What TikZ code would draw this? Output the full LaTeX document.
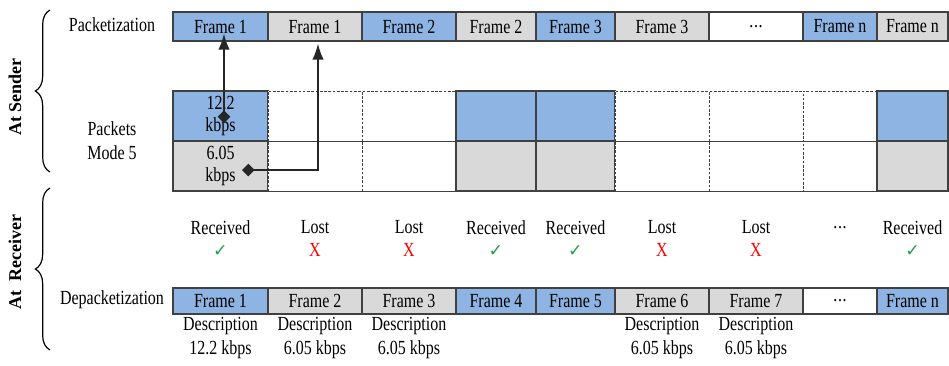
\documentclass[tikz,border=0pt]{standalone}
\usepackage{fontspec}
\setmainfont[FakeStretch=0.8]{Liberation Serif}
\newfontfamily\sidefont{Liberation Serif}
\newfontfamily\symfont{DejaVu Sans}
\usetikzlibrary{positioning, calc, arrows.meta, decorations.pathreplacing}
\definecolor{cellblue}{HTML}{8EB4E3}
\definecolor{cellgray}{HTML}{D9D9D9}
\definecolor{cellline}{HTML}{404040}
\definecolor{okgreen}{HTML}{22A04A}
\definecolor{lostred}{HTML}{FF0000}
\newcommand{\cellfont}{\fontsize{15}{17}\selectfont}
\newcommand{\descfont}{\fontsize{15}{18.5}\selectfont}
\newcommand{\okmark}{{\symfont\fontsize{13}{13}\selectfont\color{okgreen}✓}}
\newcommand{\lostmark}{{\color{lostred}X}}
\newcommand{\etcdots}{.\kern0.5pt.\kern0.5pt.}
\tikzset{
  cell/.style={draw=cellline, line width=0.8pt, inner sep=0pt, align=center, font=\cellfont},
  bluecell/.style={cell, fill=cellblue},
  graycell/.style={cell, fill=cellgray},
  whitecell/.style={cell, fill=white},
  emptycell/.style={cell, fill=white, line width=0.6pt, dash pattern=on 2pt off 1.2pt},
  txt/.style={align=center, font=\cellfont, inner sep=0pt},
  desc/.style={align=center, font=\descfont, inner sep=0pt},
  side/.style={rotate=90, font=\sidefont\bfseries\fontsize{13.5}{15}\selectfont},
  brc/.style={decorate, decoration={brace, amplitude=11pt}, line width=0.9pt},
  conn/.style={line width=1.3pt, draw=black!85, {Diamond[length=9.5pt, width=9.5pt]}-{Latex[length=12pt, width=8.5pt]}}
}

\begin{document}
\begin{tikzpicture}[x=0.75pt, y=-0.75pt]
  \useasboundingbox (0,0) rectangle (949,365);
  % Sides
  \node[side] (sender) at (15,97) {At Sender};
  \node[side] (receiver) at (15,262) {At\ \ Receiver};
  \draw[brc] (50,172) -- (50,10);
  \draw[brc] (50,350) -- (50,188);

  % Row labels
  \node[txt] (pkt) at (112,25) {Packetization};
  \node[desc] (mode) at (112,140.5) {Packets\\Mode 5};
  \node[txt] (depkt) at (112,300) {Depacketization};

  % Packetization row
  \foreach \x/\w/\lab/\fil [count=\i] in {220.5/95/Frame 1/bluecell, 315/94/Frame 1/graycell,
      409/94/Frame 2/bluecell, 496/80/Frame 2/graycell, 575.5/79/Frame 3/bluecell,
      662/94/Frame 3/graycell, 756/94/\etcdots/whitecell, 840/74/Frame n/bluecell, 912.5/71/Frame n/graycell}
    \node[\fil, minimum width={\w*0.75pt}, minimum height=21.75pt] (fr\i) at (\x,26.5) {\lab};

  % Packets
  \foreach \x/\w/\fa/\fb [count=\i] in {220.5/95/bluecell/graycell, 315/94/emptycell/emptycell,
      409/94/emptycell/emptycell, 496/80/bluecell/graycell, 575.5/79/bluecell/graycell,
      662/94/emptycell/emptycell, 756/94/emptycell/emptycell, 840/74/emptycell/emptycell,
      912.5/71/bluecell/graycell}{
    \ifnum\i=1
      \node[\fa, minimum width={\w*0.75pt}, minimum height=37.5pt] (pa\i) at (\x,116) {12.2\\kbps};
      \node[\fb, minimum width={\w*0.75pt}, minimum height=37.5pt] (pb\i) at (\x,166) {6.05\\kbps};
    \else
      \node[\fa, minimum width={\w*0.75pt}, minimum height=37.5pt] (pa\i) at (\x,116) {};
      \node[\fb, minimum width={\w*0.75pt}, minimum height=37.5pt] (pb\i) at (\x,166) {};
    \fi
  }
  \draw[cellline, line width=0.8pt] (pa1.south west) -- (pa9.south east);
  \draw[cellline, line width=0.8pt] (pb1.south west) -- (pb9.south east);

  % Arrows
  \coordinate (src1) at (224,123);
  \coordinate (src2) at (242,170);
  \coordinate (bend2) at (318,170);
  \draw[conn] (src1) -- ([yshift=6pt]src1 |- fr1.south);
  \draw[conn] (src2) -- (bend2) -- ([yshift=-1.5pt]bend2 |- fr2.south);

  % Receiver status
  \foreach \x/\st [count=\i] in {220.5/{Received\\\okmark}, 315/{Lost\\\lostmark}, 409/{Lost\\\lostmark},
      496/{Received\\\okmark}, 575.5/{Received\\\okmark}, 662/{Lost\\\lostmark}, 756/{Lost\\\lostmark},
      840/{\etcdots\\\phantom{X}}, 912.5/{Received\\\okmark}}
    \node[txt] (st\i) at (\x,238.5) {\st};

  % Depacketization row
  \foreach \x/\w/\lab/\fil [count=\i] in {220.5/95/Frame 1/bluecell, 315/94/Frame 2/graycell,
      409/94/Frame 3/graycell, 496/80/Frame 4/bluecell, 575.5/79/Frame 5/bluecell,
      662/94/Frame 6/graycell, 756/94/Frame 7/graycell, 840/74/\etcdots/whitecell, 912.5/71/Frame n/bluecell}
    \node[\fil, minimum width={\w*0.75pt}, minimum height=19.5pt] (df\i) at (\x,301) {\lab};

  % Descriptions
  \foreach \j/\rate in {1/12.2, 2/6.05, 3/6.05, 6/6.05, 7/6.05}
    \node[desc, below=1.5pt of df\j] (desc\j) {Description\\\rate\ kbps};
\end{tikzpicture}
\end{document}
